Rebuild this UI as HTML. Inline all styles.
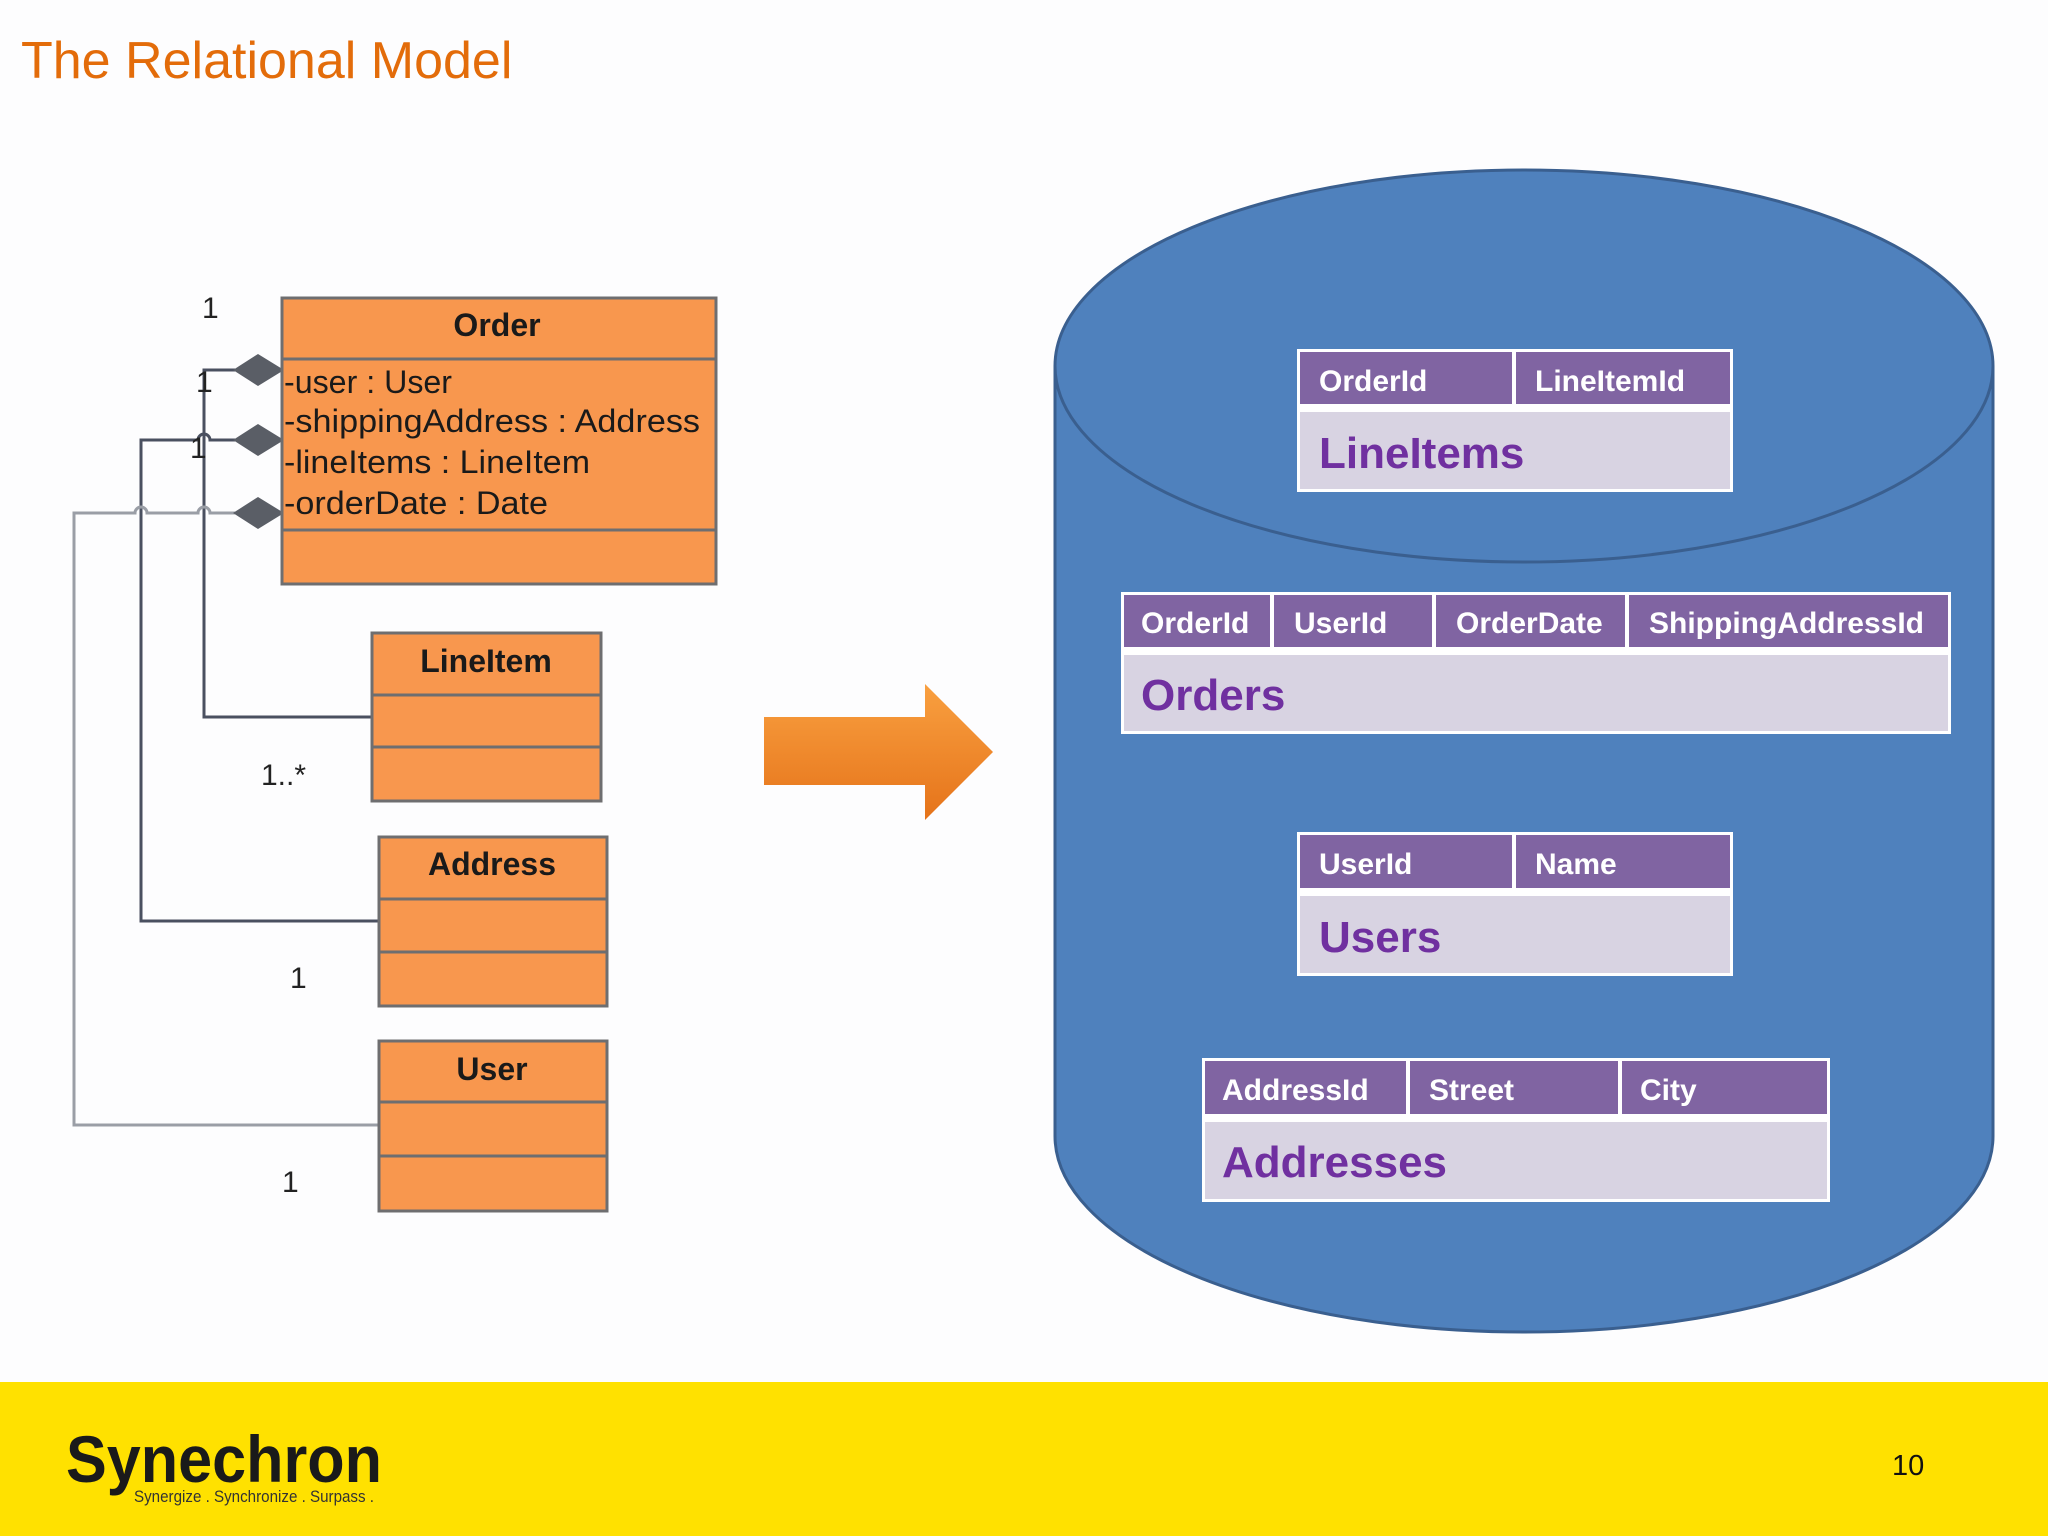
<!DOCTYPE html>
<html><head><meta charset="utf-8"><style>
html,body{margin:0;padding:0;width:2048px;height:1536px;overflow:hidden;background:#fdfdfe;}
svg{display:block}
</style></head><body>
<svg width="2048" height="1536" xmlns="http://www.w3.org/2000/svg" font-family="Liberation Sans, sans-serif">
<rect width="2048" height="1536" fill="#fdfdfe"/>
<text x="21" y="78" font-size="52" fill="#e36c0a">The Relational Model</text>

<!-- connectors -->
<g fill="none" stroke-width="3">
<path d="M235 370 H204 V717 H372" stroke="#4a5060"/>
<path d="M235 440 H210 a6 6 0 0 0 -12 0 H141 V921 H379" stroke="#4a5060"/>
<path d="M235 513 H210 a6 6 0 0 0 -12 0 H147 a6 6 0 0 0 -12 0 H74 V1125 H379" stroke="#9a9ea6"/>
</g>
<g fill="#5a5e66">
<polygon points="233,370 258,354 284,370 258,386"/>
<polygon points="233,440 258,424 284,440 258,456"/>
<polygon points="233,513 258,497 284,513 258,529"/>
</g>
<g font-size="30" fill="#222">
<text x="202" y="318">1</text>
<text x="196" y="392">1</text>
<text x="190" y="458">1</text>
<text x="261" y="785">1..*</text>
<text x="290" y="988">1</text>
<text x="282" y="1192">1</text>
</g>

<!-- Order -->
<g stroke="#6e6e70" stroke-width="3" fill="#f8974e">
<rect x="282" y="298" width="434" height="286"/>
<line x1="282" y1="359" x2="716" y2="359"/>
<line x1="282" y1="530" x2="716" y2="530"/>
<rect x="372" y="633" width="229" height="168"/>
<line x1="372" y1="695" x2="601" y2="695"/><line x1="372" y1="747" x2="601" y2="747"/>
<rect x="379" y="837" width="228" height="169"/>
<line x1="379" y1="899" x2="607" y2="899"/><line x1="379" y1="952" x2="607" y2="952"/>
<rect x="379" y="1041" width="228" height="170"/>
<line x1="379" y1="1102" x2="607" y2="1102"/><line x1="379" y1="1156" x2="607" y2="1156"/>
</g>
<g font-size="32" fill="#1a1a1a">
<text x="497" y="336" text-anchor="middle" font-weight="bold">Order</text>
<text x="284" y="393" textLength="168" lengthAdjust="spacingAndGlyphs">-user : User</text>
<text x="284" y="432" textLength="416" lengthAdjust="spacingAndGlyphs">-shippingAddress : Address</text>
<text x="284" y="473" textLength="306" lengthAdjust="spacingAndGlyphs">-lineItems : LineItem</text>
<text x="284" y="514" textLength="264" lengthAdjust="spacingAndGlyphs">-orderDate : Date</text>
<text x="486" y="672" text-anchor="middle" font-weight="bold">LineItem</text>
<text x="492" y="875" text-anchor="middle" font-weight="bold">Address</text>
<text x="492" y="1080" text-anchor="middle" font-weight="bold">User</text>
</g>

<!-- arrow -->
<defs><linearGradient id="ag" x1="0" y1="0" x2="0" y2="1"><stop offset="0" stop-color="#f9a040"/><stop offset="1" stop-color="#e5731a"/></linearGradient></defs>
<polygon points="764,717 925,717 925,684 993,752 925,820 925,785 764,785" fill="url(#ag)"/>

<!-- cylinder -->
<path d="M1055 366 V1136 A469 196 0 0 0 1993 1136 V366" fill="#4f81bd" stroke="#3a5f8f" stroke-width="3"/>
<ellipse cx="1524" cy="366" rx="469" ry="196" fill="#4f81bd" stroke="#3a5f8f" stroke-width="3"/>

<!-- tables -->
<g>
<rect x="1297" y="349" width="436" height="143" fill="#fff"/>
<rect x="1300" y="352" width="212" height="52" fill="#8064a2"/><rect x="1516" y="352" width="214" height="52" fill="#8064a2"/>
<rect x="1300" y="412" width="430" height="77" fill="#d8d3e2"/>

<rect x="1121" y="592" width="830" height="142" fill="#fff"/>
<rect x="1124" y="595" width="146" height="52" fill="#8064a2"/><rect x="1274" y="595" width="158" height="52" fill="#8064a2"/>
<rect x="1436" y="595" width="189" height="52" fill="#8064a2"/><rect x="1629" y="595" width="319" height="52" fill="#8064a2"/>
<rect x="1124" y="655" width="824" height="76" fill="#d8d3e2"/>

<rect x="1297" y="832" width="436" height="144" fill="#fff"/>
<rect x="1300" y="835" width="212" height="53" fill="#8064a2"/><rect x="1516" y="835" width="214" height="53" fill="#8064a2"/>
<rect x="1300" y="896" width="430" height="77" fill="#d8d3e2"/>

<rect x="1202" y="1058" width="628" height="144" fill="#fff"/>
<rect x="1205" y="1061" width="201" height="53" fill="#8064a2"/><rect x="1410" y="1061" width="208" height="53" fill="#8064a2"/><rect x="1622" y="1061" width="205" height="53" fill="#8064a2"/>
<rect x="1205" y="1122" width="622" height="77" fill="#d8d3e2"/>
</g>
<g font-family="Liberation Sans, DejaVu Sans, sans-serif" font-weight="bold">
<g font-size="30" fill="#fff">
<text x="1319" y="391">OrderId</text><text x="1535" y="391">LineItemId</text>
<text x="1141" y="633">OrderId</text><text x="1294" y="633">UserId</text><text x="1456" y="633">OrderDate</text><text x="1649" y="633">ShippingAddressId</text>
<text x="1319" y="874">UserId</text><text x="1535" y="874">Name</text>
<text x="1222" y="1100">AddressId</text><text x="1429" y="1100">Street</text><text x="1640" y="1100">City</text>
</g>
<g font-size="44" fill="#7030a0">
<text x="1319" y="468">LineItems</text>
<text x="1141" y="710">Orders</text>
<text x="1319" y="952">Users</text>
<text x="1222" y="1177">Addresses</text>
</g>
</g>

<!-- footer -->
<rect x="0" y="1382" width="2048" height="154" fill="#ffe100"/>
<text x="66" y="1482" font-size="66" font-weight="bold" fill="#1a1a1a" textLength="316" lengthAdjust="spacingAndGlyphs">Synechron</text>
<text x="134" y="1502" font-size="17" fill="#333" textLength="240" lengthAdjust="spacingAndGlyphs">Synergize . Synchronize . Surpass .</text>
<text x="1892" y="1475" font-size="29" fill="#111">10</text>
</svg>
</body></html>
